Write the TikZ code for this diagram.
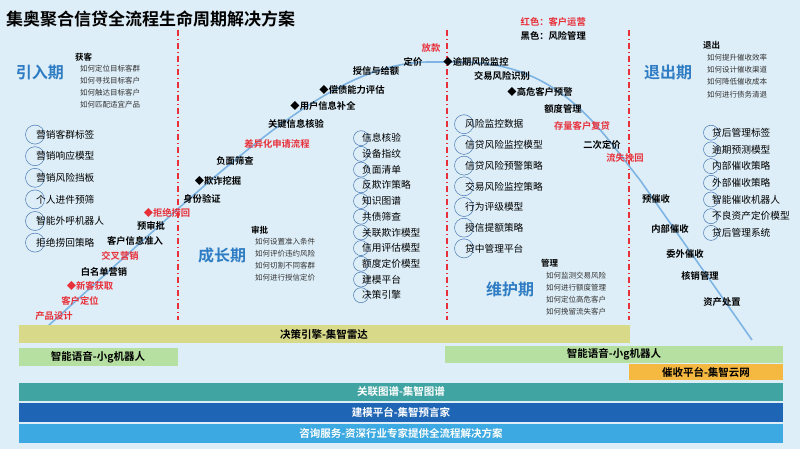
\documentclass[tikz,border=0pt]{standalone}
\usepackage{fontspec}
\setmainfont{Noto Sans CJK SC}
\newfontfamily\cjkb{Noto Sans CJK SC Bold}
\begin{document}
\begin{tikzpicture}[x=1pt,y=-1pt,
  lbl/.style={font=\cjkb\fontsize{9.3}{10}\selectfont,inner sep=0.5pt},
  rlbl/.style={lbl,text=redc},
  head/.style={font=\cjkb\fontsize{8.5}{9}\selectfont,anchor=west,inner sep=0},
  sub/.style={font=\fontsize{7.5}{8}\selectfont,anchor=west,inner sep=0,text=black!80},
  stage/.style={font=\cjkb\fontsize{16}{17}\selectfont,text=stagec},
  item/.style={font=\fontsize{9.7}{10}\selectfont,anchor=west,inner sep=0},
  ring/.style={draw=ringc,line width=0.5pt,circle,minimum size=19pt,inner sep=0},
  vline/.style={draw=redc,line width=1.2pt,dash pattern=on 6pt off 3pt on 1pt off 3pt},
  bartext/.style={font=\cjkb\fontsize{10.5}{11}\selectfont}]
\definecolor{bgc}{HTML}{DDEEF8}
\definecolor{redc}{HTML}{E8303A}
\definecolor{stagec}{HTML}{2E7CC4}
\definecolor{ringc}{HTML}{4A78B8}
\definecolor{curvec}{HTML}{7DB4E4}
\definecolor{olivec}{HTML}{D8DA8A}
\definecolor{greenc}{HTML}{B6E0A2}
\definecolor{orangec}{HTML}{F5B840}
\definecolor{tealc}{HTML}{40A4A2}
\definecolor{dbluec}{HTML}{1F65B5}
\definecolor{lbluec}{HTML}{3DA9E2}
\fill[bgc] (0,0) rectangle (800,449);
\useasboundingbox (0,0) rectangle (800,449);
\node[anchor=west,font=\cjkb\fontsize{17}{18}\selectfont,inner sep=0] (title) at (6,19) {集奥聚合信贷全流程生命周期解决方案};
% dashed lines
\coordinate (d1a) at (178,30); \coordinate (d1b) at (178,320);
\coordinate (d2a) at (447,30); \coordinate (d2b) at (447,320);
\coordinate (d3a) at (629,30); \coordinate (d3b) at (629,320);
\draw[vline] (d1a) -- (d1b); \draw[vline] (d2a) -- (d2b); \draw[vline] (d3a) -- (d3b);
% curve
\coordinate (c0) at (48,326); \coordinate (c1) at (180,207); \coordinate (c2) at (430,62);
\coordinate (c3) at (460,62); \coordinate (c4) at (640,180); \coordinate (c5) at (752,340);
\draw[curvec,line width=1.6pt] (c0) -- (c1) .. controls (290,110) and (360,62) .. (c2) -- (c3)
  .. controls (560,62) and (600,130) .. (c4) -- (c5);
% stage titles
\node[stage] (s1) at (40,72) {引入期};
\node[stage] (s2) at (222,255) {成长期};
\node[stage] (s3) at (510,289) {维护期};
\node[stage] (s4) at (668,72) {退出期};
% legend
\node[lbl,text=redc,anchor=west] (lg1) at (520,22) {红色：客户运营};
\node[lbl,anchor=west] (lg2) at (520,36) {黑色：风险管理};
% heading blocks
\node[head] (h1) at (75,57) {获客};
\foreach \t [count=\i] in {如何定位目标客群,如何寻找目标客户,如何触达目标客户,如何匹配适宜产品}
  \node[sub] (h1\i) at (80,57+12*\i) {\t};
\node[head] (h2) at (251,230) {审批};
\foreach \t [count=\i] in {如何设置准入条件,如何评价违约风险,如何切割不同客群,如何进行授信定价}
  \node[sub] (h2\i) at (255,230+12*\i) {\t};
\node[head] (h3) at (541,263) {管理};
\foreach \t [count=\i] in {如何监测交易风险,如何进行额度管理,如何定位高危客户,如何挽留流失客户}
  \node[sub] (h3\i) at (546,264+12*\i) {\t};
\node[head] (h4) at (703,45) {退出};
\foreach \t [count=\i] in {如何提升催收效率,如何设计催收渠道,如何降低催收成本,如何进行债务清退}
  \node[sub] (h4\i) at (707,45+12.3*\i) {\t};
% ring lists
\foreach \t [count=\i] in {营销客群标签,营销响应模型,营销风险挡板,个人进件预筛,智能外呼机器人,拒绝捞回策略}{
  \node[ring] (ra\i) at (35,113+21.6*\i) {};
  \node[item] (ta\i) at (36,113+21.6*\i) {\t};}
\foreach \t [count=\i] in {信息核验,设备指纹,负面清单,反欺诈策略,知识图谱,共债筛查,关联欺诈模型,信用评估模型,额度定价模型,建模平台,决策引擎}{
  \node[ring,minimum size=15pt] (rb\i) at (361,122.5+15.7*\i) {};
  \node[item] (tb\i) at (362,122.5+15.7*\i) {\t};}
\foreach \t [count=\i] in {风险监控数据,信贷风险监控模型,信贷风险预警策略,交易风险监控策略,行为评级模型,授信提额策略,贷中管理平台}{
  \node[ring] (rc\i) at (464,103.5+20.7*\i) {};
  \node[item] (tc\i) at (465,103.5+20.7*\i) {\t};}
\foreach \t [count=\i] in {贷后管理标签,逾期预测模型,内部催收策略,外部催收策略,智能催收机器人,不良资产定价模型,贷后管理系统}{
  \node[ring,minimum size=15pt] (rd\i) at (711,116+16.7*\i) {};
  \node[item] (td\i) at (712,116+16.7*\i) {\t};}
% curve labels
\node[rlbl] (l1) at (54,316) {产品设计};
\node[rlbl] (l2) at (80,301) {客户定位};
\node[rlbl] (l3) at (90,286) {◆新客获取};
\node[lbl] (l4) at (104,272) {白名单营销};
\node[rlbl] (l5) at (120,256) {交叉营销};
\node[lbl] (l6) at (135,241) {客户信息准入};
\node[lbl] (l7) at (151,226) {预审批};
\node[rlbl] (l8) at (167,213) {◆拒绝捞回};
\node[lbl] (l9) at (202,199) {身份验证};
\node[lbl] (l10) at (218,181) {◆欺诈挖掘};
\node[lbl] (l11) at (235,161) {负面筛查};
\node[rlbl] (l12) at (277,144) {差异化申请流程};
\node[lbl] (l13) at (296,124) {关键信息核验};
\node[lbl] (l14) at (323,106) {◆用户信息补全};
\node[lbl] (l15) at (352,90) {◆偿债能力评估};
\node[lbl] (l16) at (376,71) {授信与给额};
\node[lbl] (l17) at (413,62) {定价};
\node[rlbl] (l18) at (431,48) {放款};
\node[lbl] (m1) at (476,62) {◆逾期风险监控};
\node[lbl] (m2) at (502,76) {交易风险识别};
\node[lbl] (m3) at (540,92) {◆高危客户预警};
\node[lbl] (m4) at (563,109) {额度管理};
\node[rlbl] (m5) at (582,126) {存量客户复贷};
\node[lbl] (m6) at (602,145) {二次定价};
\node[rlbl] (m7) at (625,158) {流失挽回};
\node[lbl] (e1) at (656,199) {预催收};
\node[lbl] (e2) at (670,229) {内部催收};
\node[lbl] (e3) at (685,254) {委外催收};
\node[lbl] (e4) at (700,276) {核销管理};
\node[lbl] (e5) at (722,302) {资产处置};
% bars
\fill[olivec] (19,325) rectangle (630,343);
\node[bartext] (b1) at (324,334) {决策引擎-集智雷达};
\fill[greenc] (19,348) rectangle (178,366);
\node[bartext] (b2) at (98,357) {智能语音-小g机器人};
\fill[greenc] (445,346) rectangle (783,363);
\node[bartext] (b3) at (614,354.5) {智能语音-小g机器人};
\fill[orangec] (629,364) rectangle (783,380);
\node[bartext] (b4) at (706,372) {催收平台-集智云网};
\fill[tealc] (19,383) rectangle (783,401);
\node[bartext,text=white] (b5) at (401,392) {关联图谱-集智图谱};
\fill[dbluec] (19,403) rectangle (783,422);
\node[bartext,text=white] (b6) at (401,412.5) {建模平台-集智预言家};
\fill[lbluec] (19,424) rectangle (783,443);
\node[bartext,text=white] (b7) at (401,433.5) {咨询服务-资深行业专家提供全流程解决方案};
\end{tikzpicture}
\end{document}
